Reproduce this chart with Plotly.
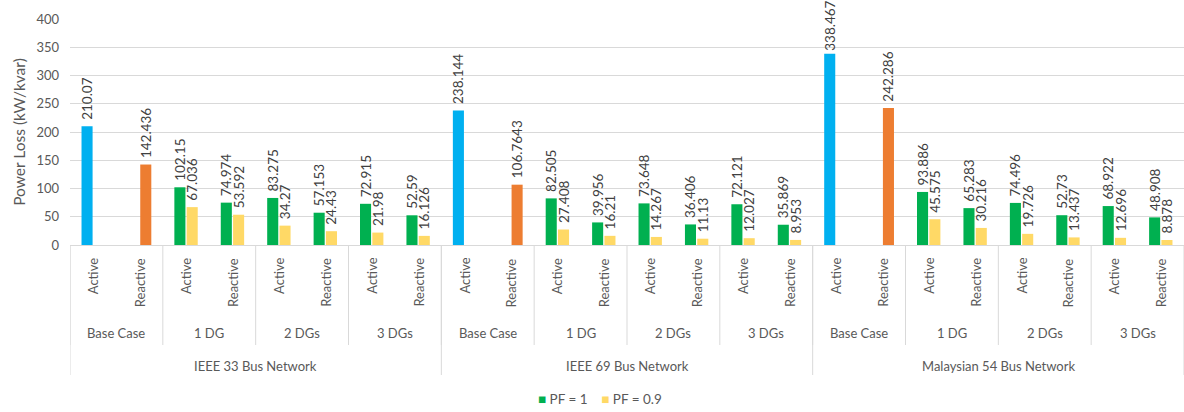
import plotly.graph_objects as go

# Category hierarchy
networks = ["IEEE 33 Bus Network", "IEEE 69 Bus Network", "Malaysian 54 Bus Network"]
cases = ["Base Case", "1 DG", "2 DGs", "3 DGs"]
loss_types = ["Active", "Reactive"]
series_names = ["PF = 1", "PF = 0.9"]

# Power loss values, ordered network -> case -> (Active, Reactive)
pf1 = [
    210.07, None, 102.15, 74.974, 83.275, 57.153, 72.915, 52.59,
    238.144, None, 82.505, 39.956, 73.648, 36.406, 72.121, 35.869,
    338.467, None, 93.886, 65.283, 74.496, 52.73, 68.922, 48.908,
]
pf09 = [
    None, 142.436, 67.036, 53.592, 34.27, 24.43, 21.98, 16.126,
    None, 106.7643, 27.408, 16.21, 14.267, 11.13, 12.027, 8.953,
    None, 242.286, 45.575, 30.216, 19.726, 13.437, 12.696, 8.878,
]

C_BLUE = "#00b0f0"
C_ORANGE = "#ed7d31"
C_GREEN = "#00b050"
C_YELLOW = "#ffd966"
GRID = "#d9d9d9"
TXT = "#595959"
FONT = "Lato"
Y_MAX = 400

n_slots = len(networks) * len(cases) * len(loss_types)
slots = list(range(n_slots))
per_net = len(cases) * len(loss_types)

# Base-case bars get their own colours
pf1_colors = [C_BLUE if (i % per_net) == 0 else C_GREEN for i in slots]
pf09_colors = [C_ORANGE if (i % per_net) == 1 else C_YELLOW for i in slots]


def labels(vals):
    # a little breathing room above each bar, except where the axis top is near
    out = []
    for v in vals:
        if v is None:
            out.append("")
        elif v > 0.8 * Y_MAX:
            out.append(str(v))
        else:
            out.append("\u00a0" + str(v))
    return out


fig = go.Figure()
for vals, cols in [(pf1, pf1_colors), (pf09, pf09_colors)]:
    fig.add_trace(go.Bar(
        x=slots, y=vals, marker=dict(color=cols, line=dict(width=0)),
        text=labels(vals), textposition="outside", textangle=-90,
        constraintext="none", cliponaxis=False,
        textfont=dict(family=FONT, size=13.5, color="#404040"),
        showlegend=False, hoverinfo="y",
    ))

PLOT_LEFT = 70
PLOT_W = 1184 - PLOT_LEFT
PLOT_TOP = 19
PLOT_BOTTOM = 245
PLOT_H = PLOT_BOTTOM - PLOT_TOP


def py(pixel_y):
    """Pixel row below the plot -> paper coordinate."""
    return (PLOT_BOTTOM - pixel_y) / PLOT_H


annotations = []
shapes = []

# Level 1: Active / Reactive
for i in slots:
    annotations.append(dict(
        x=i, y=py(256), xref="x", yref="paper", text=loss_types[i % 2],
        textangle=-90, xanchor="center", yanchor="top", showarrow=False,
        font=dict(family=FONT, size=13, color=TXT),
    ))

# Level 2: cases
for k in range(len(networks) * len(cases)):
    annotations.append(dict(
        x=2 * k + 0.5, y=py(333), xref="x", yref="paper",
        text=cases[k % len(cases)], xanchor="center", yanchor="middle",
        showarrow=False, font=dict(family=FONT, size=13, color=TXT),
    ))
    shapes.append(dict(
        type="line", xref="x", yref="paper", x0=2 * k - 0.5, x1=2 * k - 0.5,
        y0=0, y1=py(345), line=dict(color=GRID, width=1),
    ))

# Level 3: networks
for n, net in enumerate(networks):
    annotations.append(dict(
        x=per_net * n + (per_net - 1) / 2, y=py(366), xref="x", yref="paper",
        text=net, xanchor="center", yanchor="middle", showarrow=False,
        font=dict(family=FONT, size=13, color=TXT),
    ))
for n in range(len(networks) + 1):
    shapes.append(dict(
        type="line", xref="x", yref="paper",
        x0=per_net * n - 0.5, x1=per_net * n - 0.5,
        y0=0, y1=py(375), line=dict(color=GRID, width=1),
    ))

# Legend row
legend_text = "\u2003 ".join(
    f"<span style='color:{c}'>\u25A0</span> {name}"
    for name, c in zip(series_names, [C_GREEN, C_YELLOW])
)
annotations.append(dict(
    x=(600 - PLOT_LEFT) / PLOT_W, y=py(399), xref="paper", yref="paper",
    text=legend_text, showarrow=False, xanchor="center", yanchor="middle",
    font=dict(family=FONT, size=13.5, color=TXT),
))

fig.update_layout(
    width=1184, height=412,
    margin=dict(l=PLOT_LEFT, r=0, t=PLOT_TOP, b=412 - PLOT_BOTTOM),
    paper_bgcolor="white", plot_bgcolor="white",
    barmode="group", bargap=0.47, bargroupgap=0.1,
    font=dict(family=FONT, color=TXT),
    showlegend=False,
    annotations=annotations, shapes=shapes,
    xaxis=dict(
        range=[-0.5, n_slots - 0.5], showticklabels=False, showgrid=False,
        zeroline=False, showline=True, linecolor=GRID, linewidth=1,
        ticks="",
    ),
    yaxis=dict(
        range=[0, Y_MAX], dtick=50, showgrid=True, gridcolor=GRID, gridwidth=1,
        zeroline=False, showline=False, ticks="",
        tickfont=dict(family=FONT, size=13, color=TXT),
        ticklabelstandoff=10,
        title=dict(text="Power Loss (kW/kvar)", standoff=6,
                   font=dict(family=FONT, size=15.5, color=TXT)),
    ),
)

fig.write_html("out.html")
